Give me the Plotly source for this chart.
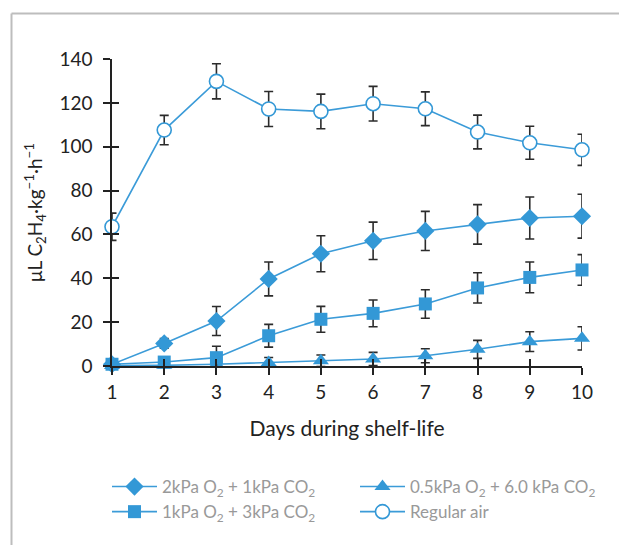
import plotly.graph_objects as go

days = [1, 2, 3, 4, 5, 6, 7, 8, 9, 10]

diamond_vals = [0.8, 10.3, 20.5, 39.7, 51.2, 57.1, 61.6, 64.6, 67.5, 68.3]
diamond_err = [0.5, 2.2, 6.6, 7.7, 8.2, 8.5, 8.9, 9.0, 9.6, 10.0]

square_vals = [0.8, 1.8, 3.8, 13.8, 21.3, 24.0, 28.3, 35.6, 40.4, 43.8]
square_err = [0.5, 1.0, 5.2, 5.2, 5.9, 6.1, 6.5, 6.9, 7.0, 7.0]

triangle_vals = [0.2, 0.3, 0.8, 1.6, 2.4, 3.2, 4.7, 7.6, 11.1, 12.6]
triangle_err = [0.3, 0.3, 0.5, 2.3, 2.6, 3.0, 3.2, 4.1, 4.5, 5.3]

air_vals = [63.5, 107.6, 129.8, 117.2, 116.1, 119.6, 117.3, 106.7, 101.8, 98.6]
air_err = [6.2, 6.7, 8.0, 8.0, 7.9, 7.9, 7.7, 7.7, 7.5, 7.1]

names = [
    "2kPa O<sub>2</sub> + 1kPa CO<sub>2</sub>",
    "1kPa O<sub>2</sub> + 3kPa CO<sub>2</sub>",
    "0.5kPa O<sub>2</sub> + 6.0 kPa CO<sub>2</sub>",
    "Regular air",
]
y_ticks = [0, 20, 40, 60, 80, 100, 120, 140]

LINE = "#3b9bd8"
MARK = "#3398d6"
FONT = "Lato"

# plot area in pixels
L, R, T, B = 112, 37, 59, 179
W = 619 - L - R
H = 545 - T - B

def px_x(p):
    return (p - L) / W

def px_y(p):
    return 1 - (p - T) / H

fig = go.Figure()

def add(vals, errs, name, symbol, size, rank, filled=True):
    fig.add_trace(go.Scatter(
        x=days, y=vals, name=name, mode="lines+markers",
        line=dict(color=LINE, width=1.6),
        marker=dict(symbol=symbol, size=size,
                    color=MARK if filled else "white",
                    line=dict(color=MARK, width=1.6 if not filled else 0)),
        error_y=dict(type="data", array=errs, visible=True,
                     color="#2b2b2b", thickness=1.6, width=4.5),
        cliponaxis=False, legendrank=rank,
    ))

add(triangle_vals, triangle_err, names[2], "triangle-up", 14, 2)
add(square_vals, square_err, names[1], "square", 13, 3)
add(diamond_vals, diamond_err, names[0], "diamond", 14, 1)
add(air_vals, air_err, names[3], "circle", 14, 4, filled=False)

# overlay axes to give crossing tick marks
fig.add_trace(go.Scatter(x=[1], y=[0], xaxis="x2", yaxis="y2", mode="markers",
                         marker=dict(opacity=0), showlegend=False, hoverinfo="skip"))

axis_common = dict(showgrid=False, zeroline=False, showline=True, linecolor="#222",
                   linewidth=1.5, ticks="outside", ticklen=7, tickwidth=1.5, tickcolor="#222",
                   tickfont=dict(family=FONT, size=19, color="#222"))

fig.update_layout(
    width=619, height=545,
    margin=dict(l=L, r=R, t=T, b=B),
    plot_bgcolor="white", paper_bgcolor="white",
    font=dict(family=FONT, color="#222"),
    xaxis=dict(range=[1, 10], tickvals=days, ticktext=[str(d) for d in days],
               title=dict(text="Days during shelf-life", font=dict(size=21, family=FONT), standoff=20),
               ticklabelstandoff=1, **axis_common),
    yaxis=dict(range=[0, 140], tickvals=y_ticks, ticktext=[str(v) for v in y_ticks],
               title=dict(text="μL C<sub>2</sub>H<sub>4</sub>·kg<sup>−1</sup>·h<sup>−1</sup>",
                          font=dict(size=19, family=FONT), standoff=12),
               ticklabelstandoff=7, **axis_common),
    xaxis2=dict(range=[1, 10], overlaying="x", tickvals=days, showticklabels=False,
                showgrid=False, zeroline=False, showline=False, ticks="inside", ticklen=7,
                tickwidth=1.5, tickcolor="#222", side="bottom", anchor="y2"),
    yaxis2=dict(range=[0, 140], overlaying="y", tickvals=y_ticks, showticklabels=False,
                showgrid=False, zeroline=False, showline=False, ticks="inside", ticklen=7,
                tickwidth=1.5, tickcolor="#222", side="left", anchor="x2"),
    legend=dict(orientation="h", x=px_x(107), xanchor="left", y=px_y(469), yanchor="top",
                font=dict(family=FONT, size=17, color="#999"),
                itemwidth=45,
                entrywidth=188, entrywidthmode="pixels", tracegroupgap=0,
                bgcolor="rgba(0,0,0,0)"),
    showlegend=True,
)

# framing border (left and top gray lines)
fig.add_shape(type="line", xref="paper", yref="paper", x0=px_x(11.5), x1=px_x(640),
              y0=px_y(13.5), y1=px_y(13.5), line=dict(color="#bdbdbd", width=2))
fig.add_shape(type="line", xref="paper", yref="paper", x0=px_x(11.5), x1=px_x(11.5),
              y0=px_y(13.5), y1=px_y(600), line=dict(color="#bdbdbd", width=2))

fig.write_html("out.html")
